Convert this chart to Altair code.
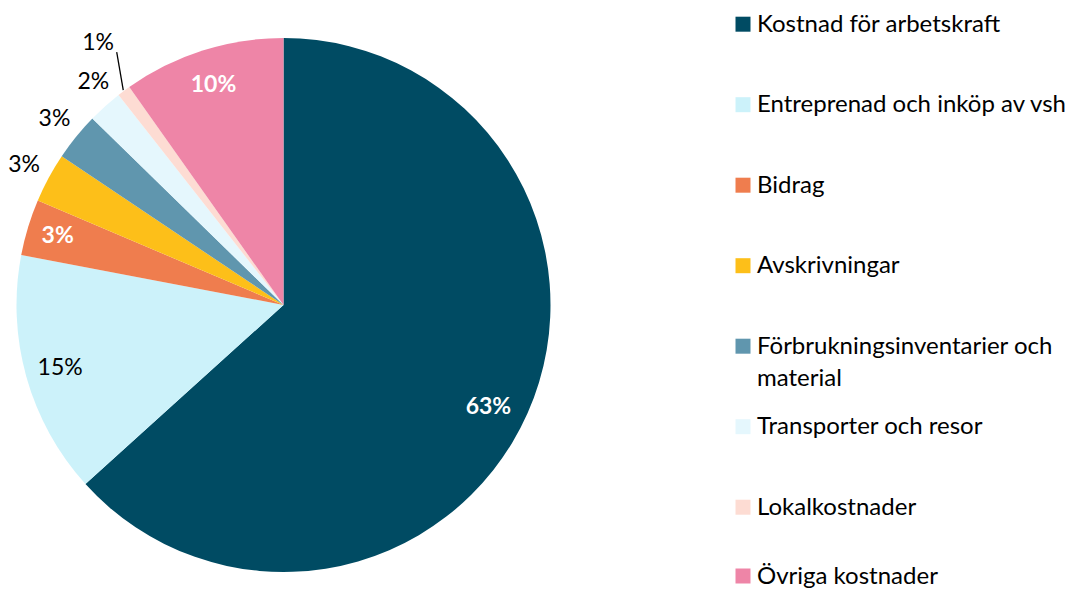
import altair as alt
import pandas as pd

categories = [
    "Kostnad för arbetskraft",
    "Entreprenad och inköp av vsh",
    "Bidrag",
    "Avskrivningar",
    "Förbrukningsinventarier och material",
    "Transporter och resor",
    "Lokalkostnader",
    "Övriga kostnader",
]
legend_labels = [
    "Kostnad för arbetskraft",
    "Entreprenad och inköp av vsh",
    "Bidrag",
    "Avskrivningar",
    "Förbrukningsinventarier och\nmaterial",
    "Transporter och resor",
    "Lokalkostnader",
    "Övriga kostnader",
]
values = [63.3, 14.7, 3.4, 3.0, 2.9, 2.1, 0.8, 9.8]
colors = ["#004B63", "#CCF2FA", "#EF7D4E", "#FDBF19", "#6096AE", "#E5F7FD", "#FDDCD3", "#EE85A7"]

df = pd.DataFrame({
    "cat": categories,
    "legend": legend_labels,
    "value": values,
    "idx": list(range(len(categories))),
})

FONT = "Lato"
CX, CY, R = 275.5, 297, 267

base = (
    alt.Chart(df)
    .transform_window(end="sum(value)", sort=[{"field": "idx"}], frame=[None, 0])
    .transform_calculate(
        start="datum.end - datum.value",
        mid="datum.end - datum.value / 2",
        pct="format(datum.value / 100, '.0%')",
    )
)

theta_scale = alt.Scale(domain=[0, 100], range=[0, 6.283185307179586])
color_scale = alt.Scale(domain=categories, range=colors)

arcs = base.mark_arc(radius=R).encode(
    x=alt.value(CX),
    y=alt.value(CY),
    theta=alt.Theta("start:Q", scale=theta_scale),
    theta2="end:Q",
    color=alt.Color("cat:N", scale=color_scale, legend=None),
)


def labels(cats, radius, color, weight, theta_offset=0.0):
    return base.transform_filter(
        alt.FieldOneOfPredicate(field="cat", oneOf=cats)
    ).mark_text(
        radius=radius, thetaOffset=theta_offset, font=FONT, fontSize=23,
        fontWeight=weight, color=color, align="center", baseline="middle",
    ).encode(
        x=alt.value(CX),
        y=alt.value(CY),
        theta=alt.Theta("mid:Q", scale=theta_scale),
        text="pct:N",
    )


label_layers = [
    labels(["Kostnad för arbetskraft"], 229, "#FFFFFF", "bold", 0.045),
    labels(["Övriga kostnader"], 231, "#FFFFFF", "bold"),
    labels(["Bidrag"], 236, "#FFFFFF", "bold"),
    labels(["Entreprenad och inköp av vsh"], 232, "#000000", "normal"),
    labels(["Avskrivningar", "Förbrukningsinventarier och material"], 295, "#000000", "normal"),
    labels(["Transporter och resor"], 293, "#000000", "normal", 0.026),
    labels(["Lokalkostnader"], 321, "#000000", "normal", 0.025),
]

leader_line = (
    base.transform_filter(alt.FieldOneOfPredicate(field="cat", oneOf=["Lokalkostnader"]))
    .transform_calculate(
        ang="datum.mid / 100 * 2 * PI",
        lx1=f"{CX} + {R + 1} * sin(datum.ang)",
        ly1=f"{CY} - {R + 1} * cos(datum.ang)",
        lx2=f"{CX} + 303 * sin(datum.ang + 0.058)",
        ly2=f"{CY} - 303 * cos(datum.ang + 0.058)",
    )
    .mark_rule(color="#000000", strokeWidth=1.3)
    .encode(
        x=alt.X("lx1:Q", scale=None),
        x2="lx2:Q",
        y=alt.Y("ly1:Q", scale=None),
        y2="ly2:Q",
    )
)

legend_rows = [16.2, 96.7, 177.2, 257.7, 338.2, 418.7, 499.2, 568]
legend_y = alt.Y(
    "idx:Q", axis=None,
    scale=alt.Scale(domain=list(range(len(categories))), range=legend_rows),
)

legend_sq = alt.Chart(df).mark_square(size=225, opacity=1).encode(
    x=alt.value(735),
    y=legend_y,
    color=alt.Color("cat:N", scale=color_scale, legend=None),
)

legend_txt = alt.Chart(df).mark_text(
    font=FONT, fontSize=24, color="#000000", align="left", baseline="alphabetic",
    dy=7.5, lineBreak="\n", lineHeight=32.5,
).encode(
    x=alt.value(749),
    y=legend_y,
    text="legend:N",
)

chart = (
    alt.layer(arcs, *label_layers, leader_line, legend_sq, legend_txt)
    .resolve_scale(y="independent")
    .properties(width=1069, height=582, padding=0, autosize="none")
    .configure_view(stroke=None)
)

chart.save("out.html", embed_options={"renderer": "svg", "actions": False})
